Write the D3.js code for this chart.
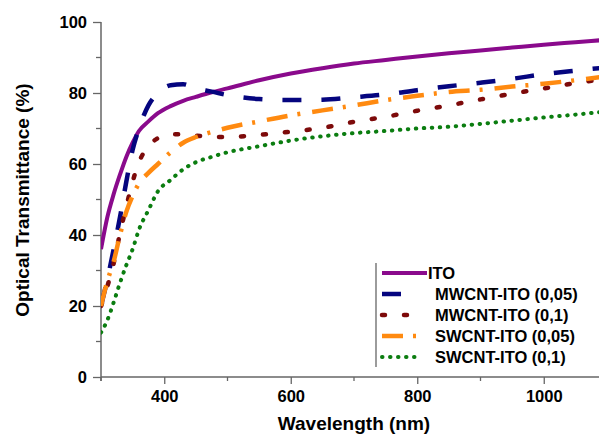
<!DOCTYPE html>
<html>
<head>
<meta charset="utf-8">
<script src="https://cdn.jsdelivr.net/npm/d3@7"></script>
<style>
  body { margin: 0; background: #fff; }
  text { font-family: "Liberation Sans", Arial, sans-serif; font-weight: bold; fill: #000; }
</style>
</head>
<body>
<div id="chart"></div>
<script>
// wavelength grid (nm)
var wavelength = [300, 310, 320, 330, 340, 350, 360, 375, 390, 410, 430, 450, 475, 500,
                  550, 600, 650, 700, 750, 800, 850, 900, 950, 1000, 1050, 1100];

var ito      = [36, 45, 51.5, 57, 62, 66, 69.3, 72, 74.3, 76.3, 77.8, 78.9, 80.2, 81.3,
                83.6, 85.5, 87, 88.3, 89.3, 90.3, 91.2, 92, 92.8, 93.6, 94.3, 95];
var mw005    = [20, 27.5, 36, 45, 55, 64, 70, 76.5, 80, 82.2, 82.5, 81.3, 80.4, 79.4,
                78.3, 78, 78.1, 78.8, 79.6, 80.8, 81.9, 82.9, 84, 85.3, 86.3, 87.2];
var mw01     = [20, 25.5, 32, 40.5, 48, 55, 60.5, 65, 67.3, 68.4, 68.4, 68, 67.7, 67.6,
                68.2, 69.1, 70.2, 71.9, 73.3, 75, 76.5, 78.2, 79.8, 81.3, 82.8, 84];
var sw005    = [20, 27, 32.5, 40, 46.5, 51, 54.5, 57.5, 60, 63.3, 66, 67.6, 69, 70.2,
                72, 73.7, 75.1, 76.5, 78, 79.2, 80.3, 80.9, 81.8, 82.6, 83.6, 84.7];
var sw01     = [12.5, 16, 21, 26.5, 31.5, 36, 41.5, 47, 52.3, 55.5, 58.5, 60.5, 62, 63.3,
                65, 66.6, 67.8, 68.7, 69.3, 70, 70.5, 71.3, 72.2, 73.1, 73.9, 74.8];

var names = ["ITO", "MWCNT-ITO (0,05)", "MWCNT-ITO (0,1)", "SWCNT-ITO (0,05)", "SWCNT-ITO (0,1)"];
var xTicks = [400, 600, 800, 1000];
var yTicks = [0, 20, 40, 60, 80, 100];

var width = 599, height = 435;

var x = d3.scaleLinear().domain([300, 1100]).range([101, 607]);
var y = d3.scaleLinear().domain([0, 100]).range([377, 22]);

var styles = [
  {color: "#8a0a8c", dash: null, w: 4, cap: "butt", legLen: 45},
  {color: "#05057f", dash: "19,20", w: 4.5, cap: "butt", legLen: 20},
  {color: "#7d0a0a", dash: "3,19", w: 4.5, cap: "round", legLen: 28},
  {color: "#ff8a10", dash: "21,10,3,12", w: 4.5, cap: "butt", legLen: 40},
  {color: "#0b7d10", dash: "0.5,7.5", w: 4, cap: "round", legLen: 33}
];

var series = [ito, mw005, mw01, sw005, sw01];

var svg = d3.select('#chart')
    .append('svg')
    .attr('width', width)
    .attr('height', height);

svg.append("clipPath").attr("id", "clip")
  .append("rect").attr("x", 101).attr("y", 0).attr("width", 510).attr("height", 380);

var line = d3.line()
    .x((d, i) => x(wavelength[i]))
    .y(d => y(d))
    .curve(d3.curveMonotoneX);

var axisColor = "#666";

// x axis
var xAxis = svg.append("g").attr("transform", "translate(0,377)");
xAxis.call(d3.axisBottom(x).tickValues(xTicks).tickSize(7).tickFormat(d3.format("d")));
xAxis.select(".domain").remove();
xAxis.selectAll(".tick line").attr("stroke", axisColor).attr("stroke-width", 1.3);
xAxis.selectAll(".tick text").attr("font-size", "16.5px").attr("dy", 0).attr("y", 25);
xAxis.append("g").selectAll("line").data([300, 500, 700, 900]).enter().append("line")
  .attr("x1", d => x(d)).attr("x2", d => x(d)).attr("y1", 0).attr("y2", 4)
  .attr("stroke", axisColor).attr("stroke-width", 1.3);
xAxis.append("line").attr("x1", 101).attr("x2", 599).attr("y1", 0).attr("y2", 0)
  .attr("stroke", axisColor).attr("stroke-width", 1.5);

// y axis
var yAxis = svg.append("g").attr("transform", "translate(101,0)");
yAxis.call(d3.axisLeft(y).tickValues(yTicks).tickSize(8));
yAxis.select(".domain").remove();
yAxis.selectAll(".tick line").attr("stroke", axisColor).attr("stroke-width", 1.3);
yAxis.selectAll(".tick text").attr("font-size", "16.5px").attr("x", -14).attr("dy", "0.36em");
yAxis.append("g").selectAll("line").data([10, 30, 50, 70, 90]).enter().append("line")
  .attr("x1", -5).attr("x2", 0).attr("y1", d => y(d)).attr("y2", d => y(d))
  .attr("stroke", axisColor).attr("stroke-width", 1.3);
yAxis.append("line").attr("x1", 0).attr("x2", 0).attr("y1", 22).attr("y2", 381)
  .attr("stroke", axisColor).attr("stroke-width", 1.5);

// axis titles
svg.append("text")
  .attr("x", 354).attr("y", 430)
  .attr("text-anchor", "middle")
  .attr("font-size", "19px")
  .text("Wavelength (nm)");

svg.append("text")
  .attr("transform", "translate(29,200) rotate(-90)")
  .attr("text-anchor", "middle")
  .attr("font-size", "19px")
  .text("Optical Transmittance (%)");

// curves
var plot = svg.append("g").attr("clip-path", "url(#clip)");
plot.selectAll("path").data(series).enter().append("path")
  .attr("d", line)
  .attr("fill", "none")
  .attr("stroke", (d, i) => styles[i].color)
  .attr("stroke-width", (d, i) => styles[i].w)
  .attr("stroke-linecap", (d, i) => styles[i].cap)
  .attr("stroke-dasharray", (d, i) => styles[i].dash);

// legend
var legend = svg.append("g");
legend.append("line").attr("x1", 376).attr("x2", 376).attr("y1", 263).attr("y2", 367)
  .attr("stroke", axisColor).attr("stroke-width", 1.3);

var rows = legend.selectAll("g.row").data(names).enter().append("g")
  .attr("class", "row")
  .attr("transform", (d, i) => `translate(0, ${273 + i * 21})`);

rows.append("line")
  .attr("x1", 382)
  .attr("x2", (d, i) => 382 + styles[i].legLen)
  .attr("y1", 0).attr("y2", 0)
  .attr("stroke", (d, i) => styles[i].color)
  .attr("stroke-width", (d, i) => styles[i].w)
  .attr("stroke-linecap", (d, i) => styles[i].cap)
  .attr("stroke-dasharray", (d, i) => styles[i].dash);

rows.append("text")
  .attr("x", (d, i) => i === 0 ? 428 : 435)
  .attr("dy", "0.36em")
  .attr("font-size", "16.5px")
  .text(d => d);
</script>
</body>
</html>
